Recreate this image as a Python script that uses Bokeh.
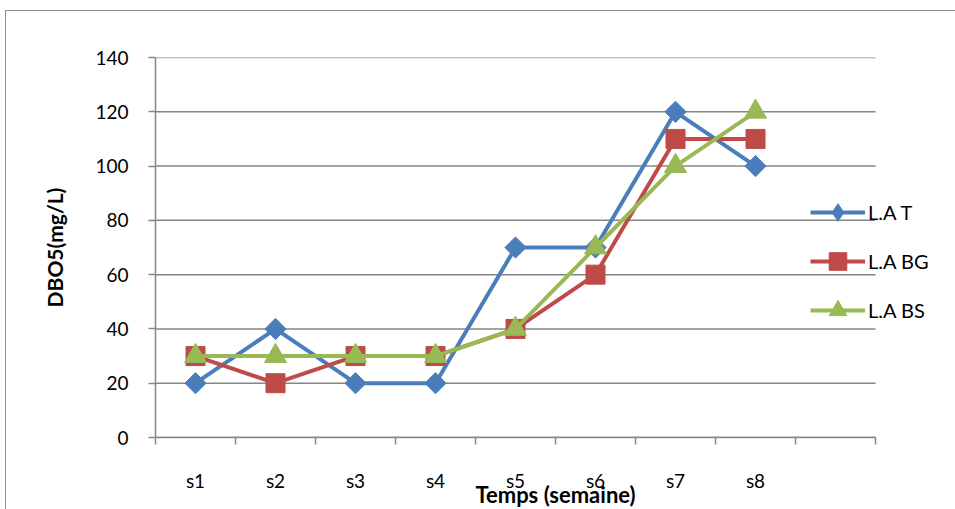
import math
from bokeh.plotting import figure
from bokeh.models import FixedTicker, Legend, LegendItem, Range1d
from bokeh.embed import file_html
from bokeh.resources import INLINE

categories = ["s1", "s2", "s3", "s4", "s5", "s6", "s7", "s8"]
n_slots = 9
la_t = [20, 40, 20, 20, 70, 70, 120, 100]
la_bg = [30, 20, 30, 30, 40, 60, 110, 110]
la_bs = [30, 30, 30, 30, 40, 70, 100, 120]
y_ticks = [0, 20, 40, 60, 80, 100, 120, 140]

FONT = "Lato"
GRAY = "#868686"

xs = [i + 0.5 for i in range(len(categories))]

p = figure(frame_width=800, frame_height=380, output_backend="svg", toolbar_location=None,
           x_range=Range1d(0, 10), y_range=Range1d(0, 140),
           min_border_left=149, min_border_right=0, min_border_top=46, min_border_bottom=60,
           margin=(10, 0, 0, 5),
           styles={"border-left": "1px solid #8c8c8c", "border-top": "1px solid #8c8c8c"})
p.outline_line_color = None
p.background_fill_color = "white"
p.border_fill_color = "white"

# axes
p.xaxis.bounds = (0, n_slots)
p.xaxis.ticker = FixedTicker(ticks=xs, minor_ticks=list(range(n_slots + 1)))
p.xaxis.major_label_overrides = {x: c for x, c in zip(xs, categories)}
p.xaxis.major_tick_out = 0
p.xaxis.major_tick_in = 0
p.xaxis.minor_tick_out = 7
p.xaxis.minor_tick_in = 0
p.xaxis.minor_tick_line_color = GRAY
p.xaxis.minor_tick_line_width = 1.5
p.xaxis.axis_line_color = GRAY
p.xaxis.axis_line_width = 1.5
p.xaxis.major_label_standoff = 24
p.xaxis.major_label_text_font = FONT
p.xaxis.major_label_text_font_size = "19px"
p.xaxis.major_label_text_color = "black"
p.xaxis.axis_label = "Temps (semaine)"
p.xaxis.axis_label_text_font = FONT
p.xaxis.axis_label_text_font_style = "bold"
p.xaxis.axis_label_text_font_size = "22px"
p.xaxis.axis_label_text_color = "black"
p.xaxis.axis_label_standoff = -14

p.yaxis.ticker = FixedTicker(ticks=y_ticks)
p.yaxis.minor_tick_line_color = None
p.yaxis.major_tick_out = 7
p.yaxis.major_tick_in = 0
p.yaxis.major_tick_line_color = GRAY
p.yaxis.major_tick_line_width = 1.5
p.yaxis.axis_line_color = GRAY
p.yaxis.axis_line_width = 1.5
p.yaxis.major_label_standoff = 20
p.yaxis.major_label_text_font = FONT
p.yaxis.major_label_text_font_size = "19px"
p.yaxis.major_label_text_color = "black"
p.yaxis.axis_label = "DBO5(mg/L)"
p.yaxis.axis_label_text_font = FONT
p.yaxis.axis_label_text_font_style = "bold"
p.yaxis.axis_label_text_font_size = "21px"
p.yaxis.axis_label_text_color = "black"
p.yaxis.axis_label_standoff = 25

# horizontal grid lines limited to the category slots
p.xgrid.grid_line_color = None
p.ygrid.grid_line_color = None
p.segment(x0=[0] * len(y_ticks), x1=[n_slots] * len(y_ticks), y0=y_ticks, y1=y_ticks,
          line_color=GRAY, line_width=1.5)

series = [
    ("L.A T", la_t, "#4A7EBB", "square", 15, math.pi / 4, "diamond"),
    ("L.A BG", la_bg, "#BE4B48", "square", 19, 0, "square"),
    ("L.A BS", la_bs, "#98B954", "triangle", 22, 0, "triangle"),
]
items = []
for name, ys, color, marker, size, ang, leg_marker in series:
    r1 = p.line(xs, ys, line_color=color, line_width=4)
    r_leg = None
    if leg_marker != marker:
        # diamond shape used for the legend swatch (legend ignores marker angle);
        # it sits fully hidden beneath the rotated square on the plot
        r_leg = p.scatter(xs, ys, marker=leg_marker, size=17,
                          fill_color=color, line_color=color)
    r2 = p.scatter(xs, ys, marker=marker, size=size, angle=ang,
                   fill_color=color, line_color=color)
    items.append(LegendItem(label=name, renderers=[r1, r_leg if r_leg is not None else r2]))

legend = Legend(items=items, location=(655, 105), orientation="vertical",
                glyph_width=55, glyph_height=44, spacing=5, padding=0, margin=0,
                label_standoff=3, label_text_font=FONT, label_text_font_size="20px",
                label_text_color="black", border_line_color=None,
                background_fill_alpha=0)
p.add_layout(legend, "center")

open("out.html", "w").write(file_html(p, INLINE))
